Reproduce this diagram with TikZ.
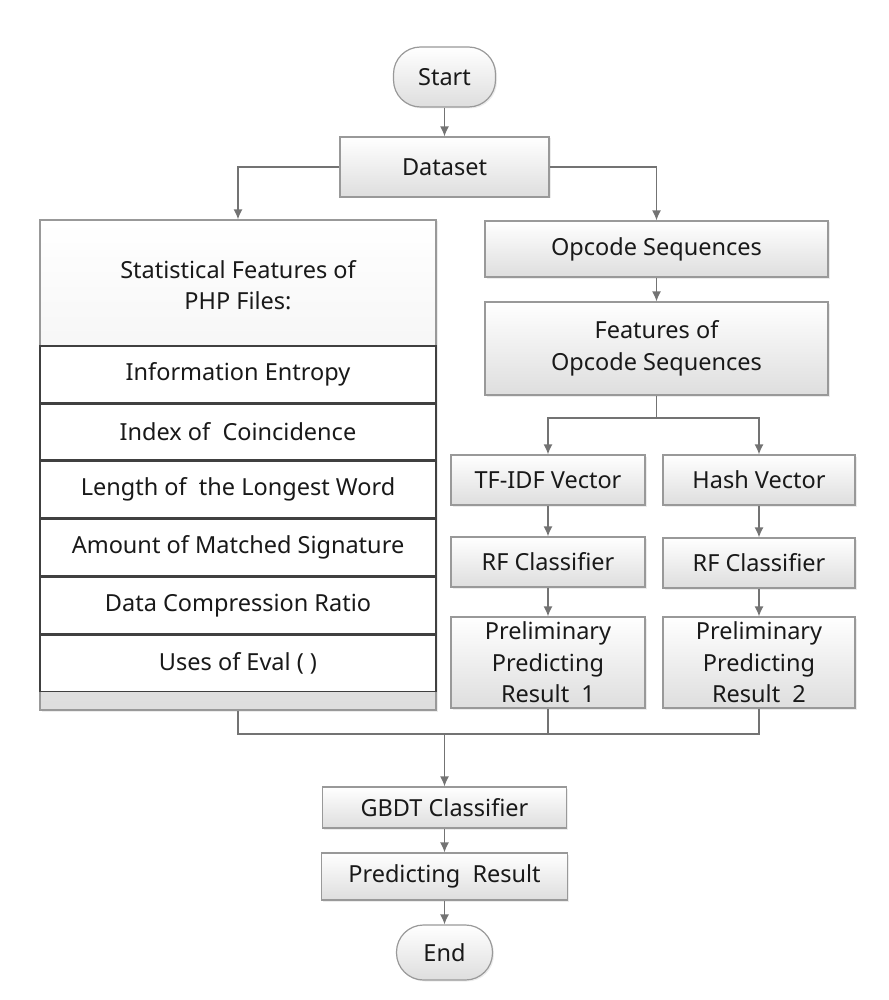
\documentclass[tikz,border=0pt]{standalone}
\usepackage{fontspec}
\setmainfont{Noto Sans}
\usetikzlibrary{shapes, arrows, arrows.meta, positioning, shadows}

\begin{document}
\begin{tikzpicture}[x=1pt, y=-1pt,
font=\fontsize{23.5}{31.5}\selectfont,
block/.style={rectangle, text centered, align=center, inner sep=2pt,
line width=1.2pt, draw=black!40, top color=white, bottom color=black!13,
text=black!90, drop shadow={opacity=0.15, shadow xshift=1.5pt, shadow yshift=-1.5pt}},
terminal/.style={block, rounded corners=27pt},
row/.style={rectangle, text centered, inner sep=0pt, line width=1.5pt,
draw=black!75, fill=white, text=black!90, minimum width=396pt, minimum height=56.3pt},
line/.style={draw, black!55, line width=1.4pt, -{Latex[length=10pt, width=9pt]}},
link/.style={draw, black!55, line width=1.4pt}
]
\useasboundingbox (0,0) rectangle (888,1000);

% main column
\node [terminal, minimum width=102pt, minimum height=60pt] (start) at (444.5,77) {Start};
\node [block, minimum width=209pt, minimum height=60pt] (dataset) at (444.5,167) {Dataset};

% statistical features
\node [block, minimum width=396pt, minimum height=490pt] (stat) at (238,465) {};
\node [align=center, text=black!90] (stat-title) at (238,285) {Statistical Features of\\PHP Files:};
\node [row] (entropy) at (238,374.2) {Information Entropy};
\node [row, below=0pt of entropy] (coincidence) {Index of\ \ Coincidence};
\node [row, below=0pt of coincidence] (longest) {Length of\ \ the Longest Word};
\node [row, below=0pt of longest] (signature) {Amount of Matched Signature};
\node [row, below=0pt of signature] (compression) {Data Compression Ratio};
\node [row, below=0pt of compression] (eval) {Uses of Eval ( )};

% opcode features
\node [block, minimum width=343pt, minimum height=56pt] (opcode) at (656.5,249) {Opcode Sequences};
\node [block, minimum width=343pt, minimum height=93pt] (features) at (656.5,348.5) {Features of\\Opcode Sequences};
\node [block, minimum width=194pt, minimum height=50pt] (tfidf) at (548,480) {TF-IDF Vector};
\node [block, minimum width=192pt, minimum height=50pt] (hash) at (759,480) {Hash Vector};
\node [block, minimum width=194pt, minimum height=50pt] (rf-tfidf) at (548,562) {RF Classifier};
\node [block, minimum width=192pt, minimum height=50pt] (rf-hash) at (759,563) {RF Classifier};
\node [block, minimum width=194pt, minimum height=91pt] (pre-tfidf) at (548,662.5) {Preliminary\\Predicting\\Result\ \ 1};
\node [block, minimum width=192pt, minimum height=91pt] (pre-hash) at (759,662.5) {Preliminary\\Predicting\\Result\ \ 2};

% final stage
\node [block, minimum width=244pt, minimum height=41pt] (gbdt) at (444.5,807.5) {GBDT Classifier};
\node [block, minimum width=246pt, minimum height=47pt] (result) at (444.5,876.5) {Predicting\ \ Result};
\node [terminal, minimum width=96pt, minimum height=55pt] (end) at (444.5,952.5) {End};

\coordinate (split) at (656.5,418);
\coordinate (merge) at (444.5,734);

\path [line] (start) -- (dataset);
\path [line] (dataset.west) -| (stat.north);
\path [line] (dataset.east) -| (opcode.north);
\path [line] (opcode) -- (features);
\path [link] (features.south) -- (split);
\path [line] (split) -| (tfidf.north);
\path [line] (split) -| (hash.north);
\path [line] (tfidf) -- (rf-tfidf);
\path [line] (hash) -- (rf-hash);
\path [line] (rf-tfidf) -- (pre-tfidf);
\path [line] (rf-hash) -- (pre-hash);
\path [link] (stat.south) |- (merge);
\path [link] (pre-tfidf.south) |- (merge);
\path [link] (pre-hash.south) |- (merge);
\path [line] (merge) -- (gbdt);
\path [line] (gbdt) -- (result);
\path [line] (result) -- (end);
\end{tikzpicture}
\end{document}
